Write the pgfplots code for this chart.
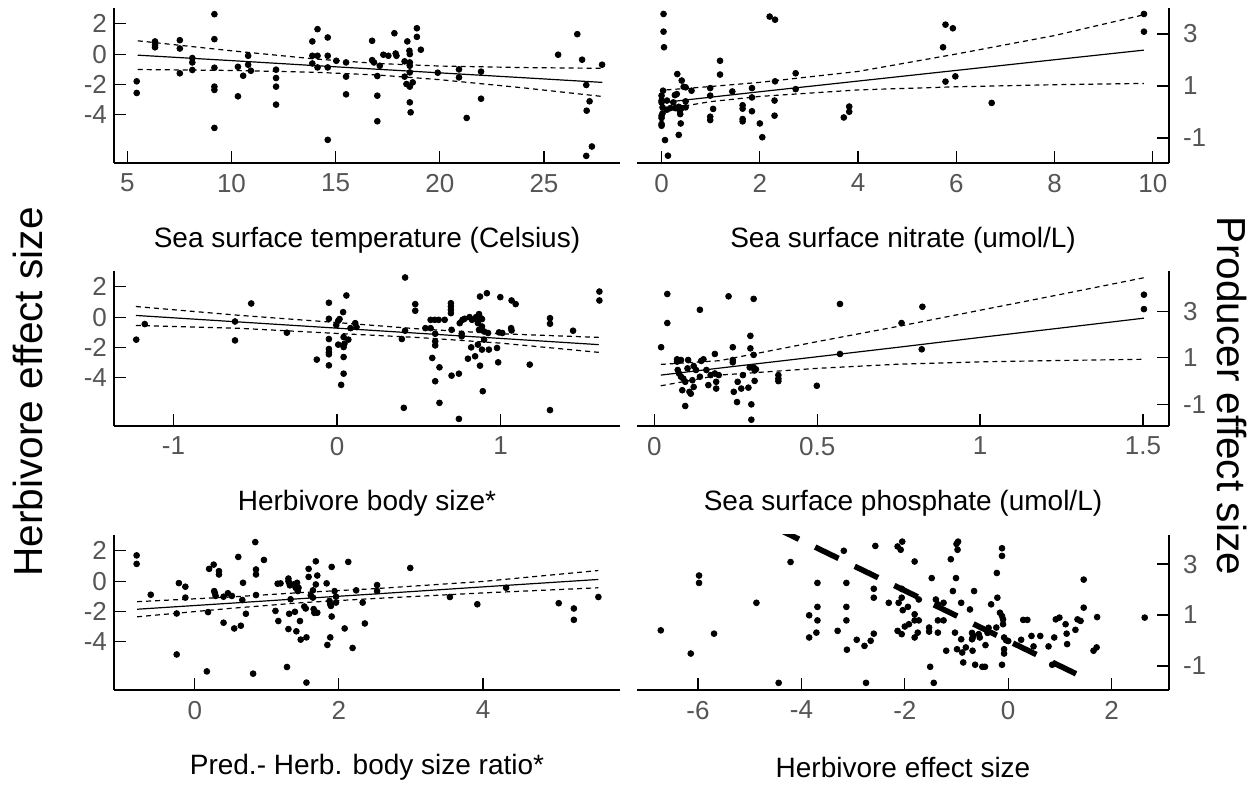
\documentclass[border=0pt]{standalone}
\usepackage{fontspec}
\setmainfont{Liberation Sans}
\usepackage{pgfplots}
\pgfplotsset{compat=1.18}
\definecolor{tickgray}{RGB}{85,85,85}
\pgfplotsset{
  base/.style={scale only axis, width=253pt, height=77.5pt,
    axis line style={line width=0.6pt},
    tick align=inside, major tick length=6pt,
    tick style={black, line width=0.6pt},
    ticklabel style={font=\fontsize{13}{13}\selectfont, text=tickgray},
    xticklabel style={yshift=-2pt},
    /pgf/number format/assume math mode=true,
    xlabel style={font=\fontsize{14}{14}\selectfont, at={(axis description cs:0.5,0)}, anchor=center, yshift=-38.5pt},
    mark size=1.45pt},
  lcol/.style={base, axis x line*=bottom, axis y line*=left, ymin=-7.2, ymax=3.05, ytick={-4,-2,0,2}},
  rcol/.style={base, width=266pt, axis x line*=bottom, axis y line*=right, ytick={-1,1,3},
    yticklabel style={xshift=3.5pt}},
  pts/.style={only marks, mark=*, mark options={fill=black, draw=black}, black},
  fit/.style={black, line width=0.6pt, no marks},
  band/.style={black, line width=0.6pt, dash pattern=on 2.5pt off 2pt, no marks},
}
\begin{document}
\begin{tikzpicture}
\useasboundingbox (0,0) rectangle (628.5pt,393pt);
% Panel 1
\begin{axis}[lcol, at={(57pt,311.5pt)}, anchor=south west, xmin=4.36, xmax=28.65, xtick={5,10,15,20,25},
  xlabel={Sea surface temperature (Celsius)}]
\addplot[pts] coordinates {
(5.45,-1.8)(5.45,-2.57)(6.33,0.84)(6.33,0.6)(6.33,0.45)(7.52,0.92)(7.52,0.37)(7.52,-1.27)
(8.12,-0.26)(8.12,-0.55)(8.12,-1.05)(9.18,2.64)(9.18,0.99)(9.18,-0.9)(9.18,-2.15)(9.18,-2.37)
(9.18,-4.88)(10.31,-2.79)(10.31,-0.84)(10.56,-1.43)(10.8,-0.11)(10.8,-0.7)(10.93,-1.1)
(12.14,-1.03)(12.14,-1.58)(12.14,-2.15)(12.14,-3.34)(13.88,0.84)(13.88,-0.11)(13.88,-0.62)
(14.13,1.65)(14.13,-0.11)(14.13,-0.88)(14.62,1.1)(14.62,-0.11)(14.62,-0.88)(14.62,-5.67)
(15.03,-0.44)(15.5,-0.55)(15.5,-1.49)(15.5,-2.66)(16.75,0.88)(16.75,-0.4)(16.84,-0.55)
(17.0,-1.45)(17.0,-2.75)(17.0,-4.44)(17.12,-0.77)(17.29,-0.04)(17.53,-0.11)(17.82,1.38)
(17.88,0.04)(17.92,-0.11)(18.31,-0.48)(18.44,0.84)(18.54,0.22)(18.56,0.0)(18.56,-0.55)
(18.56,-0.77)(18.56,-1.21)(18.4,-1.98)(18.31,-1.49)(18.56,-2.15)(18.56,-3.19)(18.6,-3.85)
(18.7,-1.87)(18.9,1.71)(18.9,1.14)(19.09,0.29)(19.9,-1.23)(20.92,-1.01)(20.92,-1.54)
(21.29,-4.22)(21.98,-1.16)(21.98,-2.95)(25.68,-0.04)(26.6,1.32)(26.83,-0.37)(27.03,-2.04)
(27.05,-3.74)(27.19,-3.12)(27.03,-6.73)(27.3,-6.11)(27.79,-0.7)};
\addplot[fit] coordinates {(5.5,-0.07)(10,-0.43)(14,-0.76)(17,-1.0)(20,-1.24)(24,-1.56)(27.8,-1.87)};
\addplot[band] coordinates {(5.5,0.88)(10,0.22)(14,-0.32)(17,-0.62)(20,-0.79)(24,-0.89)(27.8,-0.94)};
\addplot[band] coordinates {(5.5,-1.02)(10,-1.08)(14,-1.20)(17,-1.38)(20,-1.69)(24,-2.23)(27.8,-2.80)};
\end{axis}
% Panel 2
\begin{axis}[rcol, at={(318.5pt,311.5pt)}, anchor=south west, xmin=-0.5, xmax=10.33, ymin=-1.96, ymax=4.0,
  xtick={0,2,4,6,8,10}, xlabel={Sea surface nitrate (umol/L)}]
\addplot[pts] coordinates {
(0.04,3.77)(0.04,3.09)(0.05,2.49)(0.03,0.82)(0.0,0.63)(0.0,0.44)(0.0,0.37)(0.02,0.18)
(0.02,-0.05)(0.0,-0.14)(0.0,-0.23)(0.0,-0.46)(0.0,-0.53)(0.07,-1.08)(0.13,-1.68)(0.11,0.44)
(0.11,0.09)(0.18,0.15)(0.24,0.37)(0.27,0.65)(0.32,1.46)(0.31,0.69)(0.35,-0.88)(0.41,1.21)
(0.38,-0.08)(0.39,-0.44)(0.45,0.97)(0.49,0.95)(0.61,0.82)(0.28,0.15)(0.35,0.2)(0.37,0.05)
(0.41,0.15)(0.49,0.18)(0.49,0.41)(0.99,0.92)(0.99,0.63)(0.99,-0.18)(0.99,-0.31)(1.05,0.12)
(1.19,1.97)(1.19,1.44)(1.44,0.79)(1.65,0.26)(1.65,0.13)(1.65,-0.27)(1.65,-0.36)(1.84,0.92)
(1.84,0.56)(1.84,0.03)(2.0,-0.44)(2.05,-0.97)(2.2,3.67)(2.31,3.55)(2.31,1.18)(2.3,0.44)
(2.3,-0.14)(2.73,1.49)(2.73,0.88)(3.71,-0.21)(3.82,0.21)(3.82,0.01)(5.73,2.49)(5.78,3.36)
(5.93,3.22)(5.78,1.17)(5.98,1.37)(6.72,0.35)(9.82,3.77)(9.82,3.09)};
\addplot[fit] coordinates {(0.1,0.38)(1,0.57)(2,0.78)(4,1.19)(6,1.60)(8,2.01)(9.82,2.38)};
\addplot[band] coordinates {(0.1,0.85)(1,0.98)(2,1.14)(4,1.56)(6,2.23)(8,2.94)(9.82,3.74)};
\addplot[band] coordinates {(0.1,0.12)(1,0.40)(2,0.60)(4,0.85)(6,0.97)(8,1.05)(9.82,1.10)};
\end{axis}
% Panel 3
\begin{axis}[lcol, at={(57pt,180pt)}, anchor=south west, xmin=-1.364, xmax=1.73, xtick={-1,0,1},
  xlabel={Herbivore body size*}]
\addplot[pts] coordinates {
(-1.228,-1.49)(-1.176,-0.46)(-0.624,-0.29)(-0.624,-1.54)(-0.525,0.9)(-0.307,-1.03)(-0.124,-2.81)
(-0.05,0.95)(-0.05,-0.11)(-0.05,-1.45)(-0.05,-2.11)(-0.05,-2.33)(-0.05,-2.46)(-0.05,-3.19)
(-0.005,-0.53)(0.007,-0.24)(0.015,-0.13)(0.007,-1.82)(0.025,-4.48)(0.037,0.33)(0.04,-1.32)
(0.04,-1.98)(0.04,-2.64)(0.04,-3.74)(0.045,-1.76)(0.057,1.43)(0.069,-1.49)(0.082,-0.73)
(0.111,-0.40)(0.119,-0.66)(0.396,-1.45)(0.408,-6.0)(0.416,-0.9)(0.416,2.62)(0.478,0.86)
(0.478,0.42)(0.54,-0.73)(0.572,-0.18)(0.572,-0.73)(0.582,-2.7)(0.597,-0.18)(0.6,-1.1)
(0.6,-1.6)(0.6,-1.87)(0.6,-4.24)(0.621,-0.18)(0.626,-3.32)(0.626,-5.67)(0.658,-0.18)
(0.696,0.92)(0.696,0.7)(0.696,0.48)(0.696,0.26)(0.7,-0.84)(0.7,-3.87)(0.745,-3.74)
(0.745,-6.73)(0.762,-1.1)(0.762,-1.27)(0.75,-0.4)(0.767,-0.18)(0.78,-0.11)(0.81,0.0)
(0.825,-0.18)(0.85,0.0)(0.8,-2.75)(0.82,-2.0)(0.844,-2.59)(0.861,-1.82)(0.861,-0.18)
(0.861,-0.4)(0.868,0.2)(0.878,-0.07)(0.886,-0.13)(0.886,-0.62)(0.868,-0.84)(0.874,1.36)
(0.874,-3.21)(0.886,-2.15)(0.891,-4.9)(0.899,-1.49)(0.916,1.58)(0.899,-0.95)(0.923,-1.05)
(0.928,-2.15)(0.978,-2.04)(0.985,-2.99)(0.99,-1.01)(1.01,-1.05)(0.998,1.32)(1.064,-0.73)
(1.067,-0.88)(1.067,1.1)(1.092,0.86)(1.178,-3.14)(1.302,-0.07)(1.302,-0.44)(1.302,-6.15)
(1.443,-0.9)(1.604,1.69)(1.604,1.1)};
\addplot[fit] coordinates {(-1.23,0.11)(-0.6,-0.32)(0,-0.73)(0.5,-1.07)(1.0,-1.41)(1.6,-1.82)};
\addplot[band] coordinates {(-1.23,0.70)(-0.6,0.12)(0,-0.36)(0.5,-0.78)(1.0,-1.10)(1.6,-1.34)};
\addplot[band] coordinates {(-1.23,-0.55)(-0.6,-0.74)(0,-1.08)(0.5,-1.35)(1.0,-1.72)(1.6,-2.33)};
\end{axis}
% Panel 4
\begin{axis}[rcol, at={(318.5pt,180pt)}, anchor=south west, xmin=-0.053, xmax=1.58, ymin=-1.94, ymax=4.73,
  xtick={0,0.5,1,1.5}, xlabel={Sea surface phosphate (umol/L)}]
\addplot[pts] coordinates {
(0.07,0.93)(0.07,0.83)(0.072,0.47)(0.076,0.32)(0.082,0.18)(0.086,-0.4)(0.095,-1.08)(0.102,0.54)
(0.104,0.9)(0.108,-0.47)(0.112,-0.55)(0.117,0.03)(0.121,0.64)(0.128,0.47)(0.14,0.18)(0.144,0.86)
(0.151,0.93)(0.16,0.47)(0.166,-0.18)(0.173,0.25)(0.186,0.32)(0.19,-0.04)(0.19,-0.33)(0.198,0.25)
(0.089,0.1)(0.095,-0.04)(0.121,-0.26)(0.082,0.9)
(0.021,1.45)(0.04,3.74)(0.04,2.49)(0.14,3.06)(0.186,1.16)(0.228,3.64)(0.241,1.45)(0.241,0.9)
(0.241,0.8)(0.244,-0.47)(0.254,-0.91)(0.256,-0.04)(0.267,-0.33)(0.272,0.25)(0.289,-0.29)
(0.295,1.94)(0.295,1.4)(0.298,-1.01)(0.298,-1.67)(0.305,3.53)(0.305,1.12)(0.305,0.58)
(0.308,0.45)(0.308,0.0)(0.293,0.58)(0.312,0.5)(0.381,0.25)(0.381,0.1)(0.381,-0.01)
(0.499,-0.21)(0.57,3.31)(0.57,1.16)(0.759,2.49)(0.823,3.19)(0.821,1.36)(1.503,3.71)(1.503,3.09)};
\addplot[fit] coordinates {(0.02,0.25)(0.2,0.55)(0.5,1.04)(0.75,1.45)(1.0,1.87)(1.25,2.28)(1.503,2.70)};
\addplot[band] coordinates {(0.02,0.71)(0.2,0.87)(0.5,1.69)(0.75,2.35)(1.0,3.04)(1.25,3.73)(1.503,4.44)};
\addplot[band] coordinates {(0.02,-0.21)(0.2,0.25)(0.5,0.54)(0.75,0.72)(1.0,0.82)(1.25,0.88)(1.503,0.93)};
\end{axis}
% Panel 5
\begin{axis}[lcol, at={(57pt,48pt)}, anchor=south west, xmin=-1.12, xmax=5.9, xtick={0,2,4},
  xlabel={Pred.- Herb. body size ratio*}]
\addplot[pts] coordinates {
(-0.806,1.7)(-0.806,1.14)(-0.61,-0.9)(-0.25,-4.85)(-0.25,-2.14)(-0.22,-0.13)(-0.13,-0.37)
(-0.13,-1.09)(0.168,-5.97)(0.185,-2.05)(0.2,0.81)(0.263,1.09)(0.27,-0.66)(0.28,-0.8)(0.29,-0.98)
(0.336,0.66)(0.336,0.44)(0.4,-2.75)(0.4,-1.03)(0.46,-0.8)(0.515,-0.98)(0.548,-3.13)(0.604,1.6)
(0.64,-2.95)(0.66,-1.25)(0.67,-0.11)(0.71,-2.16)(0.81,-6.12)(0.84,2.58)(0.85,0.77)(0.85,0.44)
(0.85,-0.92)(0.96,1.4)(1.12,-1.97)(1.15,-0.17)(1.19,-0.15)(1.16,-2.64)(1.28,-5.68)(1.3,0.17)
(1.3,0.0)(1.31,-0.11)(1.32,-0.28)(1.3,-3.17)(1.31,-2.16)(1.33,-1.2)(1.39,-2.03)(1.41,-3.32)
(1.37,-0.22)(1.4,-0.44)(1.42,-0.11)(1.43,-0.66)(1.44,-0.44)(1.46,-2.64)(1.47,-3.87)(1.52,-1.68)
(1.55,-3.72)(1.55,-6.71)(1.58,0.81)(1.58,0.28)(1.54,-1.81)(1.61,-0.94)(1.64,-0.61)(1.64,-1.09)
(1.65,-1.85)(1.66,-2.1)(1.68,1.31)(1.68,-0.22)(1.70,0.37)(1.70,-2.09)(1.83,-0.15)(1.84,-4.22)
(1.87,-1.31)(1.88,-1.53)(1.89,-1.64)(1.88,-3.72)(1.9,0.94)(1.9,-2.34)(1.94,-0.66)(1.96,-1.42)
(1.96,-1.03)(2.08,-3.13)(2.13,1.27)(2.19,-4.42)(2.24,-0.61)(2.33,-1.42)(2.36,-2.8)(2.53,-0.26)
(2.53,-0.66)(2.99,0.87)(3.54,-1.05)(3.92,-1.53)(4.32,-0.44)(5.05,-1.46)(5.26,-1.81)(5.26,-2.56)
(5.6,-1.05)};
\addplot[fit] coordinates {(-0.8,-1.86)(0.5,-1.46)(1.5,-1.15)(2.5,-0.85)(4,-0.38)(5.6,0.11)};
\addplot[band] coordinates {(-0.8,-1.36)(0.5,-1.05)(1.5,-0.75)(2.5,-0.5)(4,-0.02)(5.6,0.70)};
\addplot[band] coordinates {(-0.8,-2.36)(0.5,-1.80)(1.5,-1.42)(2.5,-1.15)(4,-0.78)(5.6,-0.44)};
\end{axis}
% Panel 6
\begin{axis}[rcol, at={(318.5pt,48pt)}, anchor=south west, xmin=-7.18, xmax=3.11, ymin=-1.94, ymax=4.14,
  xtick={-6,-4,-2,0,2}, xlabel={Herbivore effect size}]
\addplot[pts] coordinates {
(-6.72,0.4)(-6.14,-0.51)(-5.98,2.55)(-5.98,2.26)(-5.69,0.27)(-4.87,1.48)(-4.44,-1.66)(-4.21,3.08)
(-3.85,0.99)(-3.85,0.12)(-3.71,0.31)(-3.69,2.26)(-3.69,1.32)(-3.69,0.79)(-3.3,0.38)(-3.18,3.52)
(-3.13,2.26)(-3.13,1.32)(-3.13,0.79)(-3.12,-0.36)(-2.93,0.03)(-2.78,-0.21)(-2.75,-1.66)(-2.66,-0.01)
(-2.6,0.27)(-2.6,2.03)(-2.6,1.68)(-2.57,3.71)(-2.31,1.48)(-2.14,3.69)(-2.08,3.56)(-2.14,0.38)
(-2.12,1.48)(-2.06,2.03)(-2.06,1.68)(-2.06,0.25)(-2.05,3.88)(-2.04,1.19)(-2.0,0.55)(-1.94,1.32)
(-1.92,0.64)(-1.81,3.1)(-1.81,1.03)(-1.81,0.79)(-1.81,0.12)(-1.75,0.31)(-1.73,0.79)(-1.73,1.61)
(-1.53,0.51)(-1.53,0.35)(-1.51,-1.03)(-1.48,2.45)(-1.44,-1.66)(-1.4,1.61)(-1.36,1.42)(-1.36,0.79)
(-1.36,0.31)(-1.25,1.48)(-1.25,0.79)(-1.2,-0.4)(-1.11,3.19)(-1.07,1.94)(-1.03,0.31)(-1.0,3.79)
(-0.98,3.56)(-0.97,3.88)(-1.01,2.45)(-0.99,-0.34)(-0.91,1.48)(-0.91,0.05)(-0.89,-0.47)(-0.87,-0.86)
(-0.82,-0.27)(-0.74,1.22)(-0.7,0.3)(-0.7,0.05)(-0.69,0.1)(-0.68,0.2)(-0.69,-0.4)(-0.66,1.94)
(-0.64,-0.95)(-0.57,0.25)(-0.55,0.12)(-0.5,-1.03)(-0.45,-1.03)(-0.44,-0.18)(-0.4,0.3)(-0.38,0.5)
(-0.33,1.42)(-0.23,0.51)(-0.22,2.65)(-0.21,1.68)(-0.16,1.09)(-0.12,3.32)(-0.12,3.62)(-0.12,-0.95)
(-0.12,0.96)(-0.1,0.83)(-0.1,0.64)(-0.08,0.12)(-0.08,-0.34)(-0.08,-0.51)(-0.04,0.01)(0.0,-0.02)
(0.25,0.03)(0.29,0.81)(0.37,0.81)(0.45,0.18)(0.62,0.18)(0.49,-0.23)(0.78,-0.23)(0.85,-0.95)
(0.89,0.12)(0.92,0.83)(0.99,0.9)(1.11,0.64)(1.13,0.27)(1.14,-0.14)(1.3,0.42)(1.34,0.83)
(1.4,0.77)(1.46,1.29)(1.46,2.39)(1.65,-0.4)(1.71,-0.27)(1.72,0.92)(2.64,0.9)};
\addplot[black, line width=2.8pt, dash pattern=on 13pt off 9pt, no marks] coordinates {(-4.5,4.42)(1.51,-1.5)};
\end{axis}
\node[rotate=90, font=\fontsize{20.3}{20.3}\selectfont] at (13.75pt,197pt) {Herbivore effect size};
\node[rotate=-90, font=\fontsize{20.3}{20.3}\selectfont] at (616pt,195pt) {Producer effect size};
\end{tikzpicture}
\end{document}
